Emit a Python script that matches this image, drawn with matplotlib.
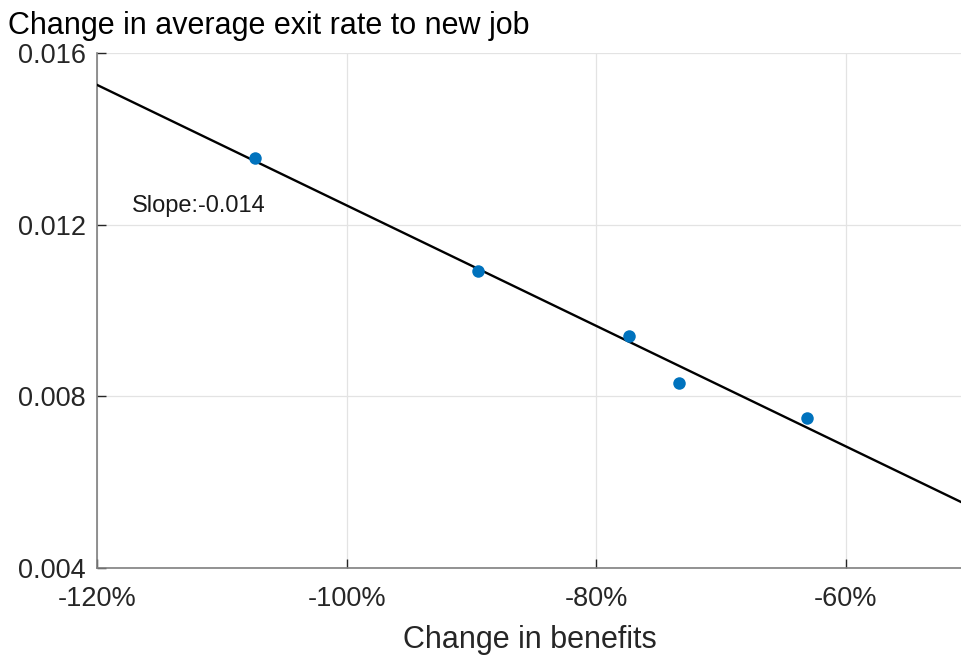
import numpy as np
import matplotlib
matplotlib.use("Agg")
import matplotlib.pyplot as plt
from matplotlib.ticker import FuncFormatter

plt.rcParams['font.family'] = ['Liberation Sans', 'DejaVu Sans']

# Change in benefits (fraction) and change in average exit rate to new job
benefit_change = [-1.073, -0.8946, -0.7735, -0.7335, -0.631]
exit_rate_change = [0.01355, 0.01092, 0.009407, 0.008312, 0.007497]

x_ticks = [-1.2, -1.0, -0.8, -0.6]
y_ticks = [0.004, 0.008, 0.012, 0.016]

fig = plt.figure(figsize=(9.62, 6.58), dpi=100)
ax = fig.add_axes([0.1008, 0.1368, 0.8992, 0.7827])

# Least-squares fit
slope, intercept = np.polyfit(benefit_change, exit_rate_change, 1)
x_lim = (-1.2, -0.507)
xs = np.array(x_lim)
ax.plot(xs, intercept + slope * xs, color='black', lw=1.7, zorder=3)

ax.plot(benefit_change, exit_rate_change, 'o', color='#0072BD',
        markersize=9, markeredgewidth=0, zorder=4)

ax.text(-1.172, 0.0123, f"Slope:{slope:.3f}", fontsize=17, color='#1a1a1a')

ax.set_xlim(*x_lim)
ax.set_ylim(0.004, 0.016)
ax.set_xticks(x_ticks)
ax.set_yticks(y_ticks)
ax.xaxis.set_major_formatter(FuncFormatter(lambda v, p: f"{v*100:.0f}%"))
ax.yaxis.set_major_formatter(FuncFormatter(lambda v, p: f"{v:.3f}"))

ax.grid(True, color='#e3e3e3', lw=0.9)
ax.set_axisbelow(True)
for side in ('top', 'right'):
    ax.spines[side].set_visible(False)
for side in ('left', 'bottom'):
    ax.spines[side].set_color('#7f7f7f')
    ax.spines[side].set_linewidth(1.2)

ax.tick_params(direction='in', length=6.5, width=1.0, color='#262626',
               labelsize=19.5, labelcolor='#262626')
ax.tick_params(axis='x', pad=13)
ax.tick_params(axis='y', pad=8)

ax.set_xlabel("Change in benefits", fontsize=22, color='#262626', labelpad=9)
fig.text(0.008, 0.984, "Change in average exit rate to new job",
         fontsize=22, color='black', ha='left', va='top')

fig.savefig("out.png", dpi=100)
